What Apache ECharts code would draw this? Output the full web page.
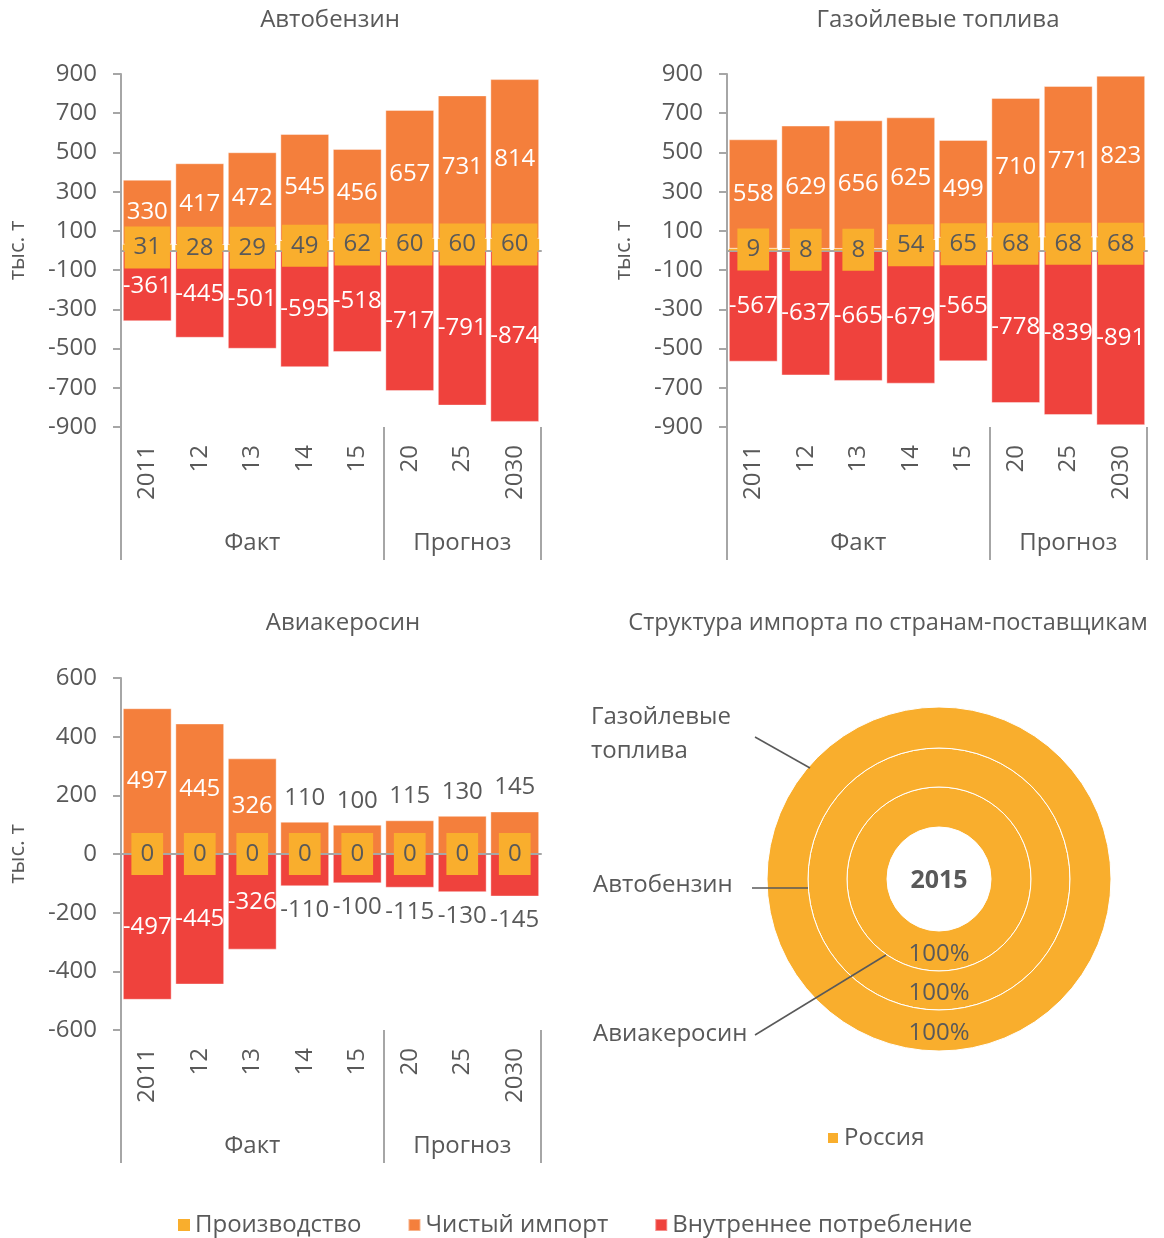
<!DOCTYPE html>
<html>
<head>
<meta charset="utf-8">
<script src="https://cdn.jsdelivr.net/npm/echarts@6/dist/echarts.min.js"></script>
<style>
  html, body { margin: 0; padding: 0; background: #fff; }
  #chart { width: 1164px; height: 1238px; }
</style>
</head>
<body>
<div id="chart"></div>
<script>
// categories
const years = ['2011', '12', '13', '14', '15', '20', '25', '2030']
const groups = ['', '', 'Факт', '', '', '', 'Прогноз', '']

// Автобензин
const benzProd = [31, 28, 29, 49, 62, 60, 60, 60]
const benzImport = [330, 417, 472, 545, 456, 657, 731, 814]
const benzCons = [-361, -445, -501, -595, -518, -717, -791, -874]

// Газойлевые топлива
const dieselProd = [9, 8, 8, 54, 65, 68, 68, 68]
const dieselImport = [558, 629, 656, 625, 499, 710, 771, 823]
const dieselCons = [-567, -637, -665, -679, -565, -778, -839, -891]

// Авиакеросин
const jetProd = [0, 0, 0, 0, 0, 0, 0, 0]
const jetImport = [497, 445, 326, 110, 100, 115, 130, 145]
const jetCons = [-497, -445, -326, -110, -100, -115, -130, -145]

// структура импорта, 2015 (от внутреннего кольца к внешнему)
const rings = ['Авиакеросин', 'Автобензин', 'Газойлевые топлива']
const russiaShare = [100, 100, 100]

const C_PROD = '#F9AE2D'
const C_IMP = '#F47F3C'
const C_CONS = '#EF423D'
const GRAY = '#595959'
const LINE = '#A6A6A6'
const FONT = 'Open Sans'

const chart = echarts.init(document.getElementById('chart'))

const grids = []
const xAxes = []
const yAxes = []
const series = []

// small bars get their labels outside, in gray
const labelled = (vals, pos) => vals.map(v => {
  if (Math.abs(v) >= 200) return v
  return { value: v, label: { position: pos, color: GRAY, distance: 12 } }
})

function panel (i, left, top, height, min, max, prod, imp, cons, outsideSmall) {
  grids.push({ left: left, top: top, width: 420, height: height })
  xAxes.push(
    {
      gridIndex: i, type: 'category', data: years, z: 3,
      axisLine: { onZero: true, lineStyle: { color: LINE, width: 2 } },
      axisTick: { show: false }, axisLabel: { show: false }
    },
    {
      gridIndex: i, type: 'category', data: years, position: 'bottom',
      axisLine: { show: true, onZero: false, lineStyle: { color: 'rgba(0,0,0,0)', width: 0 } },
      axisTick: { show: true, length: 133, interval: (idx) => idx === 0 || idx === 5, lineStyle: { color: LINE, width: 2 } },
      axisLabel: { interval: 0, rotate: 90, margin: 18, fontSize: 24, color: GRAY, fontFamily: FONT }
    },
    {
      gridIndex: i, type: 'category', data: groups, position: 'bottom', offset: 96,
      axisLine: { show: false, onZero: false }, axisTick: { show: false },
      axisLabel: { interval: 0, margin: 8, fontSize: 24, color: GRAY, fontFamily: FONT }
    }
  )
  yAxes.push({
    gridIndex: i, type: 'value', min: min, max: max, interval: 200,
    name: 'тыс. т', nameLocation: 'middle', nameGap: 92,
    nameTextStyle: { fontSize: 22, color: GRAY, fontFamily: FONT },
    axisLine: { show: true, lineStyle: { color: LINE, width: 2 } },
    axisTick: { show: true, length: 8, lineStyle: { color: LINE, width: 2 } },
    axisLabel: { fontSize: 24, color: GRAY, margin: 24, fontFamily: FONT },
    splitLine: { show: false }
  })
  const base = {
    type: 'bar', xAxisIndex: i * 3, yAxisIndex: i, stack: 's' + i,
    barCategoryGap: '7%'
  }
  series.push(
    Object.assign({}, base, {
      name: 'Производство', data: prod, z: 4,
      itemStyle: { color: C_PROD },
      label: {
        show: true, position: 'inside', backgroundColor: C_PROD, padding: [9, 9],
        color: GRAY, fontSize: 24, lineHeight: 24, fontFamily: FONT
      }
    }),
    Object.assign({}, base, {
      name: 'Чистый импорт', data: outsideSmall ? labelled(imp, 'top') : imp,
      itemStyle: { color: C_IMP, borderColor: 'rgba(255,255,255,0.4)', borderWidth: 1 },
      label: { show: true, position: 'inside', color: '#fff', fontSize: 24, fontFamily: FONT }
    }),
    Object.assign({}, base, {
      name: 'Внутреннее потребление', data: outsideSmall ? labelled(cons, 'bottom') : cons,
      itemStyle: { color: C_CONS, borderColor: 'rgba(255,255,255,0.4)', borderWidth: 1 },
      label: { show: true, position: 'inside', color: '#fff', fontSize: 24, fontFamily: FONT }
    })
  )
}

panel(0, 121, 74, 353, -900, 900, benzProd, benzImport, benzCons, false)
panel(1, 727, 74, 353, -900, 900, dieselProd, dieselImport, dieselCons, false)
panel(2, 121, 678, 352, -600, 600, jetProd, jetImport, jetCons, true)

// кольца: структура импорта
const radii = [[52, 92], [92, 131], [131, 172]]
rings.forEach((name, k) => {
  series.push({
    name: name, type: 'pie', center: [939, 879], radius: radii[k],
    startAngle: 90, silent: true, z: 1,
    data: [{ name: 'Россия', value: russiaShare[k] }],
    itemStyle: { color: C_PROD, borderColor: '#fff', borderWidth: 1 },
    label: { show: true, position: 'inside', formatter: '{d}%', color: GRAY, fontSize: 24, fontFamily: FONT },
    labelLine: { show: false }
  })
})

const titleStyle = { fontSize: 24, fontWeight: 'normal', color: GRAY, fontFamily: FONT }
const noteStyle = { fill: GRAY, fontSize: 24, fontFamily: FONT }

const option = {
  animation: false,
  textStyle: { fontFamily: FONT },
  title: [
    { text: 'Автобензин', left: 325, top: 3, textAlign: 'center', textStyle: titleStyle },
    { text: 'Газойлевые топлива', left: 933, top: 3, textAlign: 'center', textStyle: titleStyle },
    { text: 'Авиакеросин', left: 338, top: 606, textAlign: 'center', textStyle: titleStyle },
    { text: 'Структура импорта по странам-поставщикам', left: 883, top: 606, textAlign: 'center', textStyle: Object.assign({}, titleStyle, { fontSize: 23.5 }) }
  ],
  legend: [
    {
      data: ['Производство', 'Чистый импорт', 'Внутреннее потребление'],
      left: 173, top: 1208, icon: 'rect', itemWidth: 12, itemHeight: 12, itemGap: 46,
      textStyle: { fontSize: 24, color: GRAY, fontFamily: FONT }, selectedMode: false
    },
    {
      data: ['Россия'],
      left: 821, top: 1121, icon: 'rect', itemWidth: 12, itemHeight: 12,
      textStyle: { fontSize: 24, color: GRAY, fontFamily: FONT }, selectedMode: false
    }
  ],
  grid: grids,
  xAxis: xAxes,
  yAxis: yAxes,
  series: series,
  graphic: [
    { type: 'text', z: 100, x: 939, y: 881, style: { text: '2015', fill: GRAY, fontSize: 25, fontWeight: 'bold', fontFamily: FONT, align: 'center', verticalAlign: 'middle' } },
    { type: 'text', z: 100, x: 591, y: 700, style: Object.assign({ text: 'Газойлевые\nтоплива', lineHeight: 34 }, noteStyle) },
    { type: 'text', z: 100, x: 593, y: 885, style: Object.assign({ text: 'Автобензин', verticalAlign: 'middle' }, noteStyle) },
    { type: 'text', z: 100, x: 593, y: 1034, style: Object.assign({ text: 'Авиакеросин', verticalAlign: 'middle' }, noteStyle) },
    { type: 'line', z: 100, shape: { x1: 755, y1: 737, x2: 810, y2: 768 }, style: { stroke: GRAY, lineWidth: 1.5 } },
    { type: 'line', z: 100, shape: { x1: 752, y1: 888, x2: 808, y2: 888 }, style: { stroke: GRAY, lineWidth: 1.5 } },
    { type: 'line', z: 100, shape: { x1: 755, y1: 1035, x2: 886, y2: 955 }, style: { stroke: GRAY, lineWidth: 1.5 } }
  ]
}

chart.setOption(option)
window.addEventListener('resize', () => chart.resize())
</script>
</body>
</html>
